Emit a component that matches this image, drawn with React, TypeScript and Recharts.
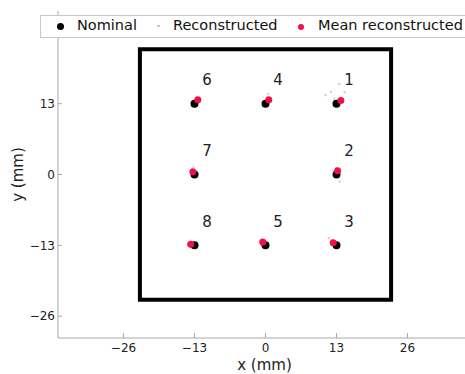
import React from 'react';
import {
  ScatterChart,
  Scatter,
  XAxis,
  YAxis,
  ReferenceArea,
  LabelList,
} from 'recharts';

// nominal marker positions (mm) and their numbers
const nominalX = [13, 13, 13, 0, 0, -13, -13, -13];
const nominalY = [13, 0, -13, 13, -13, 13, 0, -13];
const markerIds = ['1', '2', '3', '4', '5', '6', '7', '8'];

// mean of the reconstructed positions (mm)
const meanX = [13.8, 13.2, 12.4, 0.6, -0.5, -12.4, -13.3, -13.7];
const meanY = [13.6, 0.7, -12.5, 13.7, -12.4, 13.7, 0.5, -12.8];

// individual reconstructions, barely visible
const reconX = [11.0, 12.0, 12.6, 13.5, 14.5, 11.6, 12.2, 13.6, 12.9, 0.5, -13.2];
const reconY = [14.6, 15.2, 13.9, 16.6, 15.1, -11.7, -12.0, -1.3, 1.2, 14.8, 1.4];

const xTicks = [-26, -13, 0, 13, 26];
const yTicks = [-26, -13, 0, 13];
const xDomain = [-38, 38];
const yDomain = [-30, 30];
const boxHalf = 23;

const nominal = nominalX.map((x, i) => ({ x, y: nominalY[i], id: markerIds[i] }));
const mean = meanX.map((x, i) => ({ x, y: meanY[i] }));
const recon = reconX.map((x, i) => ({ x, y: reconY[i] }));

const FONT = '"DejaVu Sans", sans-serif';
const AXIS_GREY = '#a8a8a8';

const dot = (r: number, fill: string, opacity = 1) => (props: any) => (
  <circle cx={props.cx} cy={props.cy} r={r} fill={fill} fillOpacity={opacity} />
);

const NumberLabel = (props: any) => (
  <text
    x={props.x + 17}
    y={props.y - 14}
    fontSize={15}
    fontFamily={FONT}
    fill="#222"
    textAnchor="middle"
  >
    {props.value}
  </text>
);

const App: React.FC = () => {
  return (
    <div
      style={{
        position: 'absolute',
        left: 0,
        top: 0,
        width: 465,
        height: 374,
        overflow: 'hidden',
        background: '#fff',
      }}
    >
      <ScatterChart width={490} height={374} margin={{ top: 11, right: 17, bottom: 0, left: 8 }}>
        <XAxis
          xAxisId="top"
          orientation="top"
          type="number"
          dataKey="x"
          domain={xDomain}
          ticks={xTicks}
          height={0}
          tickSize={-4}
          tickFormatter={() => ''}
          stroke={AXIS_GREY}
          allowDataOverflow
        />
        <XAxis
          type="number"
          dataKey="x"
          domain={xDomain}
          ticks={xTicks}
          height={36}
          tickSize={-5}
          tickMargin={10}
          stroke={AXIS_GREY}
          tick={{ fill: '#222', fontSize: 12, fontFamily: FONT }}
          tickFormatter={(v: number) => (v < 0 ? `\u2212${-v}` : `${v}`)}
          allowDataOverflow
          label={(p: any) => (
            <text
              x={p.viewBox.x + p.viewBox.width / 2 - 1}
              y={370}
              fontSize={15}
              fontFamily={FONT}
              fill="#222"
              textAnchor="middle"
            >
              x (mm)
            </text>
          )}
        />
        <YAxis
          type="number"
          dataKey="y"
          domain={yDomain}
          ticks={yTicks}
          width={50}
          tickSize={-4}
          tickMargin={7}
          stroke={AXIS_GREY}
          tick={{ fill: '#222', fontSize: 12, fontFamily: FONT }}
          tickFormatter={(v: number) => (v < 0 ? `\u2212${-v}` : `${v}`)}
          allowDataOverflow
          label={(p: any) => (
            <text
              x={23}
              y={p.viewBox.y + p.viewBox.height / 2}
              fontSize={15}
              fontFamily={FONT}
              fill="#222"
              textAnchor="middle"
              transform={`rotate(-90, 23, ${p.viewBox.y + p.viewBox.height / 2})`}
            >
              y (mm)
            </text>
          )}
        />
        <ReferenceArea
          x1={-boxHalf}
          x2={boxHalf}
          y1={-boxHalf}
          y2={boxHalf}
          fill="none"
          fillOpacity={0}
          stroke="#000"
          strokeWidth={4}
          ifOverflow="visible"
        />
        <Scatter data={nominal} shape={dot(4, '#000')} isAnimationActive={false}>
          <LabelList dataKey="id" content={NumberLabel} />
        </Scatter>
        <Scatter data={recon} shape={dot(1.2, '#8aa8d0', 0.5)} isAnimationActive={false} />
        <Scatter data={mean} shape={dot(3.5, '#f2104c')} isAnimationActive={false} />
      </ScatterChart>
      <div
        style={{
          position: 'absolute',
          left: 40,
          top: 15,
          width: 440,
          height: 23,
          border: '1px solid #c8c8c8',
          background: '#fff',
          fontFamily: FONT,
          fontSize: 14.5,
          color: '#111',
          boxSizing: 'border-box',
        }}
      >
        <span style={{ position: 'absolute', left: 16, top: 7, width: 7, height: 7, borderRadius: 4, background: '#000' }} />
        <span style={{ position: 'absolute', left: 36, top: 1 }}>Nominal</span>
        <span style={{ position: 'absolute', left: 116, top: 9, width: 3, height: 2, background: '#ccc' }} />
        <span style={{ position: 'absolute', left: 132, top: 1 }}>Reconstructed</span>
        <span style={{ position: 'absolute', left: 257, top: 8, width: 6, height: 6, borderRadius: 3, background: '#f2104c' }} />
        <span style={{ position: 'absolute', left: 277, top: 1 }}>Mean reconstructed</span>
      </div>
    </div>
  );
};

export default App;
